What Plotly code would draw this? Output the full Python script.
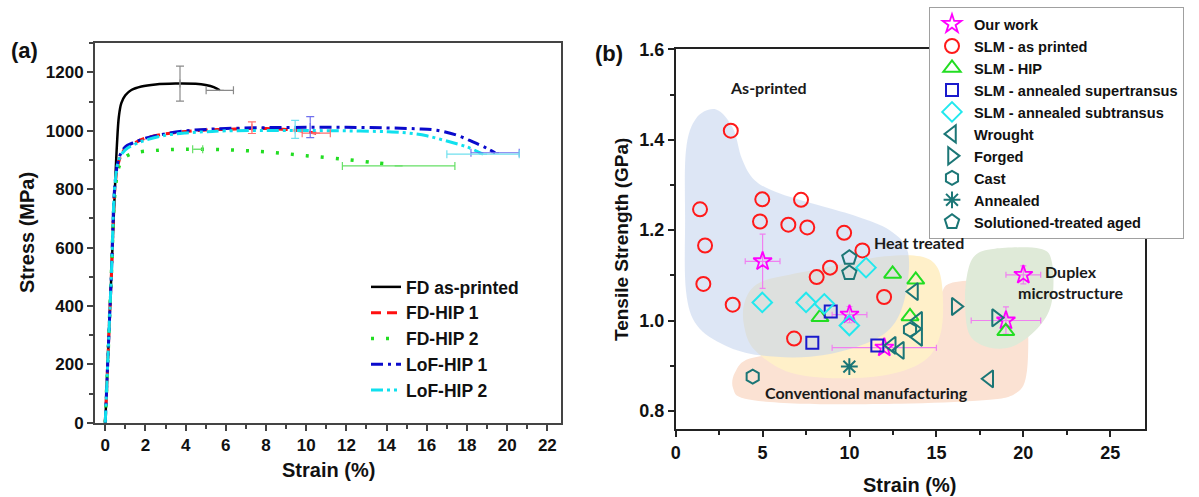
import plotly.graph_objects as go

# ---------------- Panel (a): stress-strain curves ----------------
FD_AP_STRAIN = [0, 0.15, 0.3, 0.45, 0.58, 0.68, 0.8, 1.0, 1.3, 1.8, 2.5, 3.5, 4.5, 5.0, 5.4, 5.7]
FD_AP_STRESS = [0, 250, 500, 750, 950, 1050, 1095, 1122, 1140, 1152, 1159, 1162, 1161, 1157, 1150, 1139]

FD_HIP1_STRAIN = [0, 0.3, 0.5, 0.7, 1.0, 1.5, 2.0, 3.0, 4.0, 5.0, 6.0, 7.0, 8.0, 9.0, 9.7, 10.5]
FD_HIP1_STRESS = [0, 500, 820, 900, 940, 960, 975, 990, 998, 1003, 1005, 1008, 1008, 1005, 1000, 992]

FD_HIP2_STRAIN = [0, 0.3, 0.5, 0.7, 1.0, 1.5, 2.5, 4.0, 6.0, 8.0, 10.0, 12.0, 13.5, 14.3]
FD_HIP2_STRESS = [0, 500, 800, 880, 910, 925, 933, 937, 935, 928, 915, 902, 890, 885]

LOF_HIP1_STRAIN = [0, 0.3, 0.5, 0.7, 1.0, 1.5, 2, 3, 4, 5, 6, 8, 10, 12, 14, 15.5, 16.5, 17.5, 18.3, 19.0, 19.4]
LOF_HIP1_STRESS = [0, 500, 830, 910, 945, 962, 975, 990, 1000, 1005, 1008, 1011, 1012, 1012, 1010, 1007, 1002, 985, 962, 940, 925]

LOF_HIP2_STRAIN = [0, 0.3, 0.5, 0.7, 1, 1.5, 2, 3, 4, 5, 6, 8, 10, 12, 14, 15, 16, 17, 18, 18.8]
LOF_HIP2_STRESS = [0, 500, 830, 905, 935, 955, 968, 985, 993, 997, 1000, 1001, 1001, 1000, 997, 993, 983, 965, 945, 920]

# error bars: (strain, stress, strain error, stress error)
FD_AP_ERR_X = [3.72, 5.7]
FD_AP_ERR_Y = [1162, 1139]
FD_AP_ERR_DX = [0, 0.68]
FD_AP_ERR_DY = [60, 0]

FD_HIP1_ERR_X = [7.3, 10.5]
FD_HIP1_ERR_Y = [1011, 992]
FD_HIP1_ERR_DX = [0, 0.7]
FD_HIP1_ERR_DY = [20, 0]

FD_HIP2_ERR_X = [4.6, 14.6]
FD_HIP2_ERR_Y = [937, 880]
FD_HIP2_ERR_DX = [0.25, 2.8]
FD_HIP2_ERR_DY = [0, 0]

LOF_HIP1_ERR_X = [10.2, 19.4]
LOF_HIP1_ERR_Y = [1013, 925]
LOF_HIP1_ERR_DX = [0, 1.2]
LOF_HIP1_ERR_DY = [36, 0]

LOF_HIP2_ERR_X = [9.45, 18.8]
LOF_HIP2_ERR_Y = [1005, 920]
LOF_HIP2_ERR_DX = [0, 1.8]
LOF_HIP2_ERR_DY = [31, 0]

# ---------------- Panel (b): strength vs strain ----------------
OUR_STRAIN = [5.0, 10.0, 12.0, 20.0, 19.0]
OUR_STRENGTH = [1.131, 1.013, 0.94, 1.101, 1.000]
OUR_STRAIN_ERR = [1.0, 1.0, 3.0, 1.0, 2.0]
OUR_STRENGTH_ERR = [0.06, 0.018, 0.0, 0.02, 0.03]

SLM_AP_STRAIN = [3.17, 1.40, 1.69, 4.98, 4.85, 6.48, 7.21, 7.57, 9.69, 10.74, 1.59, 3.28, 8.11, 8.88, 11.99, 6.81]
SLM_AP_STRENGTH = [1.420, 1.246, 1.166, 1.268, 1.219, 1.212, 1.267, 1.206, 1.194, 1.155, 1.081, 1.035, 1.096, 1.117, 1.052, 0.960]

SLM_HIP_STRAIN = [12.48, 13.81, 13.48, 8.30, 18.99]
SLM_HIP_STRENGTH = [1.103, 1.090, 1.009, 1.007, 0.976]

SLM_SUPER_STRAIN = [8.92, 7.86, 11.60]
SLM_SUPER_STRENGTH = [1.020, 0.951, 0.945]

SLM_SUB_STRAIN = [4.98, 7.50, 8.55, 9.99, 10.95]
SLM_SUB_STRENGTH = [1.040, 1.040, 1.037, 0.989, 1.117]

WROUGHT_STRAIN = [13.71, 13.95, 13.95, 12.43, 12.90, 18.04]
WROUGHT_STRENGTH = [1.064, 1.000, 0.963, 0.945, 0.934, 0.871]

FORGED_STRAIN = [16.11, 18.43]
FORGED_STRENGTH = [1.031, 1.006]

CAST_STRAIN = [4.43, 13.48]
CAST_STRENGTH = [0.876, 0.980]

ANNEALED_STRAIN = [9.99]
ANNEALED_STRENGTH = [0.898]

STA_STRAIN = [9.99, 9.99]
STA_STRENGTH = [1.139, 1.105]

# shaded regions (outline points, strain / strength)
ASPRINTED_REGION_X = [2.32, 3.30, 3.81, 4.56, 6.00, 8.48, 10.43, 12.33, 13.37, 13.19, 12.33, 10.43, 7.73, 4.85, 2.84, 1.23, 0.59, 0.54, 0.59, 1.17]
ASPRINTED_REGION_Y = [1.467, 1.425, 1.358, 1.310, 1.281, 1.252, 1.230, 1.199, 1.150, 1.051, 0.982, 0.942, 0.920, 0.923, 0.945, 0.989, 1.066, 1.221, 1.376, 1.447]

HEAT_REGION_X = [3.99, 4.85, 7.15, 10.03, 12.04, 14.06, 15.09, 15.38, 15.21, 14.34, 12.33, 9.45, 6.58, 4.56, 3.93]
HEAT_REGION_Y = [1.044, 1.084, 1.106, 1.128, 1.142, 1.142, 1.115, 1.044, 0.967, 0.912, 0.881, 0.872, 0.885, 0.934, 0.989]

CONV_REGION_X = [3.41, 4.27, 7.15, 11.75, 14.92, 15.78, 18.08, 19.70, 20.21, 20.21, 19.52, 17.51, 12.91, 7.15, 3.99, 3.30]
CONV_REGION_Y = [0.885, 0.916, 0.929, 0.934, 1.044, 1.082, 1.088, 1.077, 1.033, 0.889, 0.838, 0.823, 0.816, 0.816, 0.827, 0.850]

DUPLEX_REGION_X = [16.76, 17.22, 18.37, 20.96, 21.65, 21.65, 20.96, 19.52, 18.08, 16.93, 16.65]
DUPLEX_REGION_Y = [1.100, 1.144, 1.159, 1.159, 1.128, 1.044, 0.989, 0.945, 0.940, 0.967, 1.033]

FONT = "Liberation Sans, Arial, sans-serif"
NOTE_FONT = "Lato, Open Sans, sans-serif"
TEAL = "#1b7676"


def smooth_closed_path(xs, ys):
    """Closed Catmull-Rom curve through the points, as an SVG path."""
    n = len(xs)
    d = f"M{xs[0]},{ys[0]}"
    for i in range(n):
        p0 = (xs[i - 1], ys[i - 1])
        p1 = (xs[i], ys[i])
        p2 = (xs[(i + 1) % n], ys[(i + 1) % n])
        p3 = (xs[(i + 2) % n], ys[(i + 2) % n])
        c1 = (p1[0] + (p2[0] - p0[0]) / 6, p1[1] + (p2[1] - p0[1]) / 6)
        c2 = (p2[0] - (p3[0] - p1[0]) / 6, p2[1] - (p3[1] - p1[1]) / 6)
        d += f" C{c1[0]:.4f},{c1[1]:.4f} {c2[0]:.4f},{c2[1]:.4f} {p2[0]:.4f},{p2[1]:.4f}"
    return d + " Z"


fig = go.Figure()

# ---- panel (a) curves ----
curves = [
    ("FD as-printed", FD_AP_STRAIN, FD_AP_STRESS, "#000000", "solid", 2.5),
    ("FD-HIP 1", FD_HIP1_STRAIN, FD_HIP1_STRESS, "#ff1010", "10px,6px", 3),
    ("FD-HIP 2", FD_HIP2_STRAIN, FD_HIP2_STRESS, "#22dd22", "3px,12px", 3.5),
    ("LoF-HIP 1", LOF_HIP1_STRAIN, LOF_HIP1_STRESS, "#0a0acc", "12px,5px,3px,5px", 3),
    ("LoF-HIP 2", LOF_HIP2_STRAIN, LOF_HIP2_STRESS, "#10e0ee", "12px,4px,3px,4px,3px,4px", 3),
]
for name, xs, ys, col, dash, w in curves:
    fig.add_trace(go.Scatter(x=xs, y=ys, mode="lines", name=name, line=dict(color=col, dash=dash, width=w),
                             line_shape="spline", xaxis="x", yaxis="y", legend="legend"))

err_sets = [
    (FD_AP_ERR_X, FD_AP_ERR_Y, FD_AP_ERR_DX, FD_AP_ERR_DY, "#8a8a8a"),
    (FD_HIP1_ERR_X, FD_HIP1_ERR_Y, FD_HIP1_ERR_DX, FD_HIP1_ERR_DY, "#ff7070"),
    (FD_HIP2_ERR_X, FD_HIP2_ERR_Y, FD_HIP2_ERR_DX, FD_HIP2_ERR_DY, "#66e066"),
    (LOF_HIP1_ERR_X, LOF_HIP1_ERR_Y, LOF_HIP1_ERR_DX, LOF_HIP1_ERR_DY, "#7070ee"),
    (LOF_HIP2_ERR_X, LOF_HIP2_ERR_Y, LOF_HIP2_ERR_DX, LOF_HIP2_ERR_DY, "#70e0ee"),
]
for xs, ys, dx, dy, col in err_sets:
    fig.add_trace(go.Scatter(
        x=xs, y=ys, mode="markers", marker=dict(size=1, color="rgba(0,0,0,0)"), showlegend=False,
        error_x=dict(type="data", array=dx, color=col, thickness=1.2, width=4),
        error_y=dict(type="data", array=dy, color=col, thickness=1.2, width=4),
        xaxis="x", yaxis="y", hoverinfo="skip"))

# ---- panel (b) markers ----
fig.add_trace(go.Scatter(
    x=OUR_STRAIN, y=OUR_STRENGTH, mode="markers", name="Our work",
    marker=dict(symbol="star-open", size=14, color="#ff00ff", line=dict(width=1.8)),
    error_x=dict(type="data", array=OUR_STRAIN_ERR, color="#f080f0", thickness=1.2, width=3),
    error_y=dict(type="data", array=OUR_STRENGTH_ERR, color="#f080f0", thickness=1.2, width=3),
    xaxis="x2", yaxis="y2", legend="legend2"))

groups = [
    ("SLM - as printed", SLM_AP_STRAIN, SLM_AP_STRENGTH, "circle-open", "#ff1a1a", 14),
    ("SLM - HIP", SLM_HIP_STRAIN, SLM_HIP_STRENGTH, "triangle-up-open", "#22dd22", 15),
    ("SLM - annealed supertransus", SLM_SUPER_STRAIN, SLM_SUPER_STRENGTH, "square-open", "#1a1acc", 12),
    ("SLM - annealed subtransus", SLM_SUB_STRAIN, SLM_SUB_STRENGTH, "diamond-open", "#22e8ee", 15),
    ("Wrought", WROUGHT_STRAIN, WROUGHT_STRENGTH, "triangle-left-open", TEAL, 15),
    ("Forged", FORGED_STRAIN, FORGED_STRENGTH, "triangle-right-open", TEAL, 15),
    ("Cast", CAST_STRAIN, CAST_STRENGTH, "hexagon-open", TEAL, 14),
    ("Annealed", ANNEALED_STRAIN, ANNEALED_STRENGTH, "asterisk-open", TEAL, 14),
    ("Solutioned-treated aged", STA_STRAIN, STA_STRENGTH, "pentagon-open", TEAL, 15),
]
for name, xs, ys, sym, col, size in groups:
    fig.add_trace(go.Scatter(x=xs, y=ys, mode="markers", name=name,
                             marker=dict(symbol=sym, size=size, color=col, line=dict(width=2, color=col)),
                             xaxis="x2", yaxis="y2", legend="legend2"))

# ---- shaded regions ----
regions = [
    (CONV_REGION_X, CONV_REGION_Y, "#fbe2d3"),
    (HEAT_REGION_X, HEAT_REGION_Y, "#fff0c9"),
    (DUPLEX_REGION_X, DUPLEX_REGION_Y, "#dfead8"),
    (ASPRINTED_REGION_X, ASPRINTED_REGION_Y, "rgba(196,212,238,0.58)"),
]
shapes = []
for xs, ys, col in regions:
    shapes.append(dict(type="path", path=smooth_closed_path(xs, ys), xref="x2", yref="y2",
                       fillcolor=col, line=dict(width=0), layer="below"))

notes = [
    ("As-printed", 5.32, 1.516),
    ("Heat treated", 14.0, 1.173),
    ("Duplex<br>microstructure", 22.77, 1.085),
    ("Conventional manufacturing", 10.97, 0.841),
]
annotations = []
for text, x, y in notes:
    annotations.append(dict(text=text, x=x, y=y, xref="x2", yref="y2", showarrow=False,
                            font=dict(family=NOTE_FONT, size=16, color="#1a1a1a", weight="bold"),
                            xanchor="center", yanchor="middle"))

title_font = dict(family=FONT, size=20, color="#111", weight="bold")
annotations += [
    dict(text="Strain (%)", x=328 / 1199, y=1 - 470 / 497, xref="paper", yref="paper", showarrow=False,
         font=title_font, xanchor="center", yanchor="middle"),
    dict(text="Stress (MPa)", x=27 / 1199, y=1 - 233 / 497, xref="paper", yref="paper", showarrow=False,
         font=title_font, textangle=-90, xanchor="center", yanchor="middle"),
    dict(text="Strain (%)", x=910 / 1199, y=1 - 485 / 497, xref="paper", yref="paper", showarrow=False,
         font=title_font, xanchor="center", yanchor="middle"),
    dict(text="Tensile Strength (GPa)", x=621 / 1199, y=1 - 240 / 497, xref="paper", yref="paper",
         showarrow=False, font=dict(family=FONT, size=19, color="#111", weight="bold"), textangle=-90,
         xanchor="center", yanchor="middle"),
    dict(text="(a)", x=25 / 1199, y=1 - 50 / 497, xref="paper", yref="paper", showarrow=False,
         font=dict(family=FONT, size=22, color="#111", weight="bold"), xanchor="center", yanchor="middle"),
    dict(text="(b)", x=609 / 1199, y=1 - 53 / 497, xref="paper", yref="paper", showarrow=False,
         font=dict(family=FONT, size=22, color="#111", weight="bold"), xanchor="center", yanchor="middle"),
]

tick_a = dict(family=FONT, size=17, color="#111", weight="bold")
tick_b = dict(family=FONT, size=18, color="#111", weight="bold")
axis_common = dict(showline=True, mirror=True, showgrid=False, zeroline=False, ticks="outside",
                   ticklen=6, tickwidth=1.5, automargin=False)

fig.update_layout(
    template="none",
    width=1199, height=497, margin=dict(l=0, r=0, t=0, b=0, autoexpand=False),
    paper_bgcolor="white", plot_bgcolor="white",
    xaxis=dict(domain=[95 / 1199, 561 / 1199], range=[-0.51, 22.68], dtick=2, tick0=0,
               linecolor="#444", linewidth=2, tickcolor="#444", tickfont=tick_a,
               minor=dict(ticks="outside", ticklen=4, dtick=1, tickcolor="#444"), **axis_common),
    yaxis=dict(domain=[1 - 422.7 / 497, 1 - 43.3 / 497], range=[0, 1300], dtick=200, tick0=0,
               linecolor="#444", linewidth=2, tickcolor="#444", tickfont=tick_a,
               minor=dict(ticks="outside", ticklen=4, dtick=100, tickcolor="#444"), **axis_common),
    xaxis2=dict(domain=[675.7 / 1199, 1145 / 1199], range=[0, 27], dtick=5, tick0=0, anchor="y2",
                linecolor="#222", linewidth=1.8, tickcolor="#222", tickfont=tick_b,
                minor=dict(ticks="outside", ticklen=4, dtick=2.5, tickcolor="#222"), **axis_common),
    yaxis2=dict(domain=[1 - 429 / 497, 1 - 49.3 / 497], range=[0.76, 1.6], dtick=0.2, tick0=0.8,
                anchor="x2", tickformat=".1f",
                linecolor="#222", linewidth=1.8, tickcolor="#222", tickfont=tick_b,
                minor=dict(ticks="outside", ticklen=4, dtick=0.1, tickcolor="#222"), **axis_common),
    legend=dict(x=366 / 1199, y=1 - 269 / 497, xanchor="left", yanchor="top", bgcolor="rgba(0,0,0,0)",
                font=dict(family=FONT, size=17.5, color="#111", weight="bold"), tracegroupgap=0),
    legend2=dict(x=929 / 1199, y=1 - 7 / 497, xanchor="left", yanchor="top", bgcolor="white",
                 bordercolor="#a0a0a0", borderwidth=1, itemwidth=34,
                 font=dict(family=FONT, size=14.6, color="#111", weight="bold"), tracegroupgap=0),
    shapes=shapes, annotations=annotations, showlegend=True,
)

fig.write_html("out.html")
